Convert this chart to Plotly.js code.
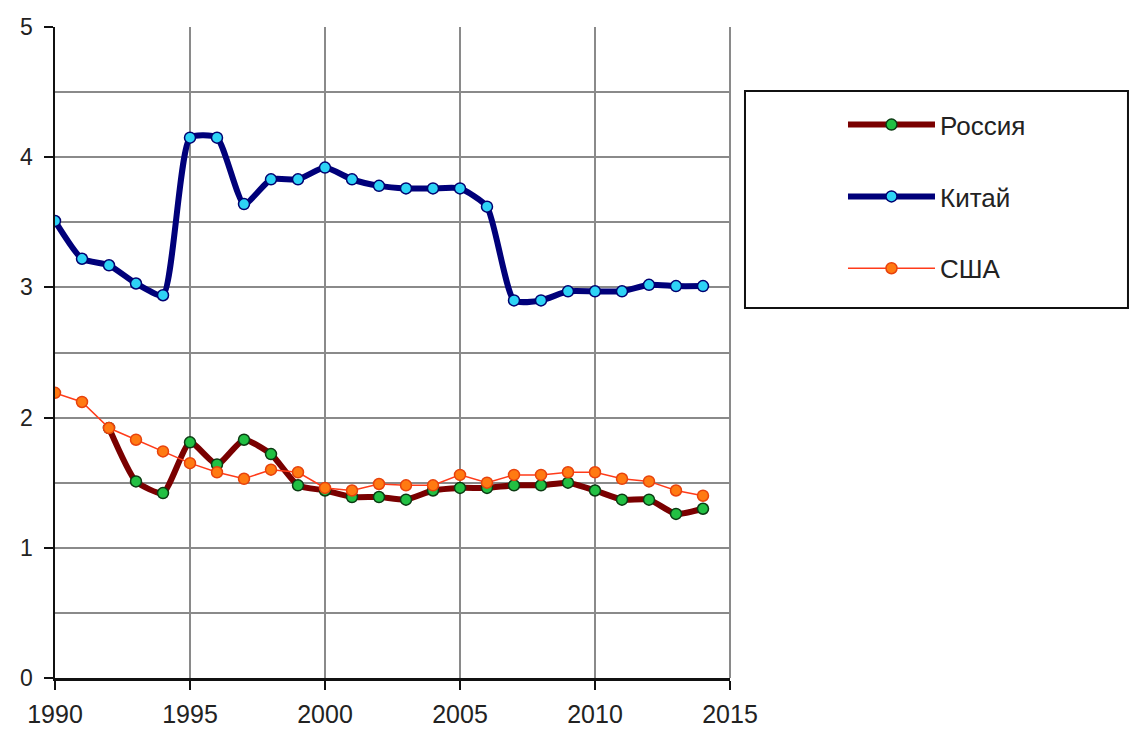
<!DOCTYPE html>
<html>
<head>
<meta charset="utf-8">
<script src="https://cdn.plot.ly/plotly-3.0.1.min.js"></script>
<style>html,body{margin:0;padding:0;background:#fff;}#chart{width:1131px;height:731px;}</style>
</head>
<body>
<div id="chart"></div>
<script>
const years = [1990,1991,1992,1993,1994,1995,1996,1997,1998,1999,2000,2001,2002,2003,2004,2005,2006,2007,2008,2009,2010,2011,2012,2013,2014];
const russiaYears = [1992,1993,1994,1995,1996,1997,1998,1999,2000,2001,2002,2003,2004,2005,2006,2007,2008,2009,2010,2011,2012,2013,2014];
const russia = [1.92,1.51,1.42,1.81,1.64,1.83,1.72,1.48,1.44,1.39,1.39,1.37,1.44,1.46,1.46,1.48,1.48,1.50,1.44,1.37,1.37,1.26,1.30];
const china = [3.51,3.22,3.17,3.03,2.94,4.15,4.15,3.64,3.83,3.83,3.92,3.83,3.78,3.76,3.76,3.76,3.62,2.90,2.90,2.97,2.97,2.97,3.02,3.01,3.01];
const usa = [2.19,2.12,1.92,1.83,1.74,1.65,1.58,1.53,1.60,1.58,1.46,1.44,1.49,1.48,1.48,1.56,1.50,1.56,1.56,1.58,1.58,1.53,1.51,1.44,1.40];
const names = ['Россия','Китай','США'];
const xTicks = [1990,1995,2000,2005,2010,2015];

const font = 'Liberation Sans, Arial, sans-serif';
const traces = [
  {x: russiaYears, y: russia, name: names[0], legendgroup: 'a', mode: 'lines+markers', type: 'scatter',
   line: {color: '#7a0000', width: 6, shape: 'spline', smoothing: 0.55},
   marker: {color: '#22c043', size: 11, line: {color: '#0b3a12', width: 1.5}}},
  {x: years, y: china, name: names[1], legendgroup: 'b', mode: 'lines+markers', type: 'scatter',
   line: {color: '#00007a', width: 6, shape: 'spline', smoothing: 0.55},
   marker: {color: '#2ed3f5', size: 11, line: {color: '#000070', width: 1.5}}},
  {x: years, y: usa, name: names[2], legendgroup: 'c', mode: 'lines+markers', type: 'scatter',
   line: {color: '#ff3b1a', width: 1.5},
   marker: {color: '#ff7a12', size: 11, line: {color: '#e8420c', width: 1.5}}}
];

const layout = {
  width: 1131, height: 731,
  margin: {l: 55, r: 401, t: 27, b: 53},
  paper_bgcolor: '#fff', plot_bgcolor: '#fff',
  font: {family: font, color: '#222'},
  showlegend: true,
  legend: {x: 1.1674, y: 0.886, xanchor: 'left', yanchor: 'top', bgcolor: 'rgba(0,0,0,0)', borderwidth: 0,
           font: {size: 26, family: font, color: '#222'}, tracegroupgap: 35, traceorder: 'grouped', itemwidth: 87},
  xaxis: {range: [1990, 2015], tickvals: xTicks, ticktext: xTicks.map(String),
          showgrid: true, gridcolor: '#8a8a8a', gridwidth: 2,
          showline: true, linecolor: '#111', linewidth: 2.5,
          ticks: 'outside', ticklen: 9, tickwidth: 2, tickcolor: '#111',
          tickfont: {size: 25, family: font, color: '#222'}, ticklabelstandoff: 3,
          zeroline: false, fixedrange: true},
  yaxis: {range: [0, 5], dtick: 1, tick0: 0,
          showgrid: true, gridcolor: '#8a8a8a', gridwidth: 2,
          minor: {dtick: 0.5, showgrid: true, gridcolor: '#8a8a8a', gridwidth: 2, ticks: ''},
          showline: true, linecolor: '#111', linewidth: 2.5,
          ticks: 'outside', ticklen: 9, tickwidth: 2, tickcolor: '#111',
          tickfont: {size: 23, family: font, color: '#222'}, ticklabelstandoff: 6,
          zeroline: false, fixedrange: true},
  shapes: [
    {type: 'line', xref: 'paper', yref: 'paper', x0: 1, x1: 1, y0: 0, y1: 1, line: {color: '#8a8a8a', width: 2}, layer: 'below'},
    {type: 'rect', xref: 'paper', yref: 'paper', x0: 1.0222, x1: 1.5896, y0: 0.5684, y1: 0.9017, line: {color: '#111', width: 2}}
  ]
};

Plotly.newPlot('chart', traces, layout, {displayModeBar: false, staticPlot: true});
</script>
</body>
</html>
